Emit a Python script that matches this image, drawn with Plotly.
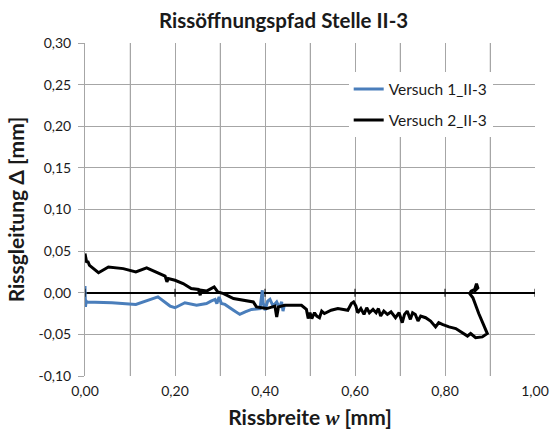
import plotly.graph_objects as go

# ---- data ----
v1_w = [0.000, 0.001, 0.000, 0.002, 0.000, 0.004, 0.060, 0.113, 0.162, 0.189, 0.200,
        0.222, 0.248, 0.270, 0.280, 0.289, 0.293, 0.298, 0.303, 0.311, 0.330, 0.344,
        0.356, 0.370, 0.389, 0.392, 0.394, 0.396, 0.400, 0.406, 0.411, 0.418, 0.426,
        0.432, 0.437, 0.440, 0.443]
v1_d = [0.008, -0.017, 0.004, -0.013, -0.008, -0.011, -0.012, -0.014, -0.005, -0.016, -0.018,
        -0.012, -0.015, -0.013, -0.010, -0.008, -0.013, -0.005, -0.013, -0.014, -0.021, -0.026,
        -0.023, -0.020, -0.019, -0.002, 0.003, -0.012, -0.021, -0.010, -0.008, -0.016, -0.011,
        -0.018, -0.011, -0.022, -0.015]

v2_w = [0.000, 0.002, 0.001, 0.004, 0.006, 0.010, 0.030, 0.052, 0.085, 0.113, 0.137,
        0.158, 0.178, 0.182, 0.185, 0.200, 0.218, 0.236, 0.252, 0.256, 0.258, 0.270,
        0.287, 0.295, 0.308, 0.330, 0.356, 0.374, 0.381, 0.404, 0.422, 0.426, 0.430,
        0.444, 0.481, 0.492, 0.496, 0.500, 0.504, 0.510, 0.515, 0.521, 0.526, 0.532,
        0.547, 0.562, 0.584, 0.592, 0.597, 0.602, 0.606, 0.613, 0.620, 0.626, 0.632,
        0.640, 0.647, 0.652, 0.657, 0.664, 0.672, 0.680, 0.690, 0.698, 0.705, 0.710,
        0.716, 0.723, 0.728, 0.734, 0.740, 0.746, 0.757, 0.768, 0.779, 0.786, 0.794,
        0.809, 0.824, 0.835, 0.842, 0.850, 0.857, 0.868, 0.883, 0.894, 0.875, 0.862,
        0.855, 0.858, 0.866, 0.870, 0.873, 0.864]
v2_d = [0.047, 0.040, 0.044, 0.036, 0.038, 0.033, 0.024, 0.031, 0.029, 0.025, 0.030,
        0.025, 0.020, 0.013, 0.017, 0.015, 0.011, 0.005, 0.004, -0.003, 0.003, 0.002,
        0.007, 0.001, -0.001, -0.007, -0.009, -0.011, -0.017, -0.019, -0.016, -0.029, -0.017,
        -0.015, -0.015, -0.020, -0.031, -0.024, -0.031, -0.024, -0.028, -0.030, -0.022, -0.025,
        -0.021, -0.019, -0.021, -0.013, -0.011, -0.016, -0.024, -0.019, -0.026, -0.018, -0.024,
        -0.020, -0.024, -0.019, -0.028, -0.022, -0.026, -0.023, -0.030, -0.024, -0.036, -0.026,
        -0.022, -0.032, -0.024, -0.026, -0.034, -0.028, -0.030, -0.034, -0.041, -0.036, -0.038,
        -0.041, -0.043, -0.047, -0.050, -0.052, -0.049, -0.054, -0.053, -0.049, -0.025, -0.006,
        -0.001, 0.002, 0.004, 0.011, 0.006, 0.001]

series_names = ["Versuch 1_II-3", "Versuch 2_II-3"]
x_tick_vals = [0.0, 0.1, 0.2, 0.3, 0.4, 0.5, 0.6, 0.7, 0.8, 0.9, 1.0]
x_tick_text = ["0,00", "", "0,20", "", "0,40", "", "0,60", "", "0,80", "", "1,00"]
y_tick_vals = [-0.10, -0.05, 0.00, 0.05, 0.10, 0.15, 0.20, 0.25, 0.30]
y_tick_text = ["-0,10", "-0,05", "0,00", "0,05", "0,10", "0,15", "0,20", "0,25", "0,30"]
zero_axis_ticks = [0.0, 0.2, 0.4, 0.6, 0.8, 1.0]

FONT = "Lato, 'Open Sans', sans-serif"
TXT = "#1a1a1a"
MAJOR_GRID = "#a6a6a6"
MINOR_GRID = "#d0d0d0"

fig = go.Figure()
fig.add_trace(go.Scatter(x=v1_w, y=v1_d, mode="lines", name=series_names[0],
                         legendgroup="a",
                         line=dict(color="#4a7ebb", width=3)))
fig.add_trace(go.Scatter(x=v2_w, y=v2_d, mode="lines", name=series_names[1],
                         legendgroup="b",
                         line=dict(color="#000000", width=3)))

shapes = []
# lighter gridlines at the unlabeled 0.1 positions
for xv, lab in zip(x_tick_vals, x_tick_text):
    if lab == "":
        shapes.append(dict(type="line", xref="x", yref="paper", x0=xv, x1=xv, y0=0, y1=1,
                           layer="below", line=dict(color=MINOR_GRID, width=1)))
# cross tick marks on the horizontal axis (at y = 0)
for xv in zero_axis_ticks:
    shapes.append(dict(type="line", xref="x", yref="y", ysizemode="pixel", yanchor=0,
                       x0=xv, x1=xv, y0=-4, y1=4,
                       line=dict(color="black", width=1)))

fig.update_layout(
    width=554, height=433,
    margin=dict(l=85, r=19, t=43, b=57, autoexpand=False),
    paper_bgcolor="white", plot_bgcolor="white",
    font=dict(family=FONT, color=TXT),
    title=dict(text="<b>Rissöffnungspfad Stelle II-3</b>", x=0.512, xanchor="center",
               y=0.952, yanchor="middle",
               font=dict(size=20.5, family=FONT, color=TXT)),
    showlegend=True,
    legend=dict(x=0.586, y=0.912, xanchor="left", yanchor="top",
                bgcolor="white", borderwidth=0, tracegroupgap=8,
                font=dict(size=15.5, family=FONT, color=TXT)),
    shapes=shapes,
    xaxis=dict(range=[0, 1], tickvals=x_tick_vals, ticktext=x_tick_text,
               showgrid=True, gridcolor=MAJOR_GRID, gridwidth=1,
               zeroline=False, showline=False, ticks="", automargin=False,
               ticklabelstandoff=5,
               tickfont=dict(size=14, family=FONT, color=TXT),
               title=dict(text="<b>Rissbreite <span style='font-family:\"Liberation Serif\", serif'><i>w</i></span> [mm]</b>",
                          font=dict(size=21, family=FONT, color=TXT),
                          standoff=12)),
    yaxis=dict(range=[-0.10, 0.30], tickvals=y_tick_vals, ticktext=y_tick_text,
               showgrid=True, gridcolor=MAJOR_GRID, gridwidth=1,
               zeroline=True, zerolinecolor="black", zerolinewidth=2,
               showline=True, linecolor=MAJOR_GRID, linewidth=1,
               ticks="outside", ticklen=6, tickcolor=MAJOR_GRID, automargin=False,
               ticklabelstandoff=4,
               tickfont=dict(size=14, family=FONT, color=TXT),
               title=dict(text="<b>Rissgleitung Δ [mm]</b>",
                          font=dict(size=21, family=FONT, color=TXT),
                          standoff=8)),
)

fig.write_html("out.html",
               config={"displayModeBar": False},
               post_script="document.body.style.margin='0';document.body.style.padding='0';")
